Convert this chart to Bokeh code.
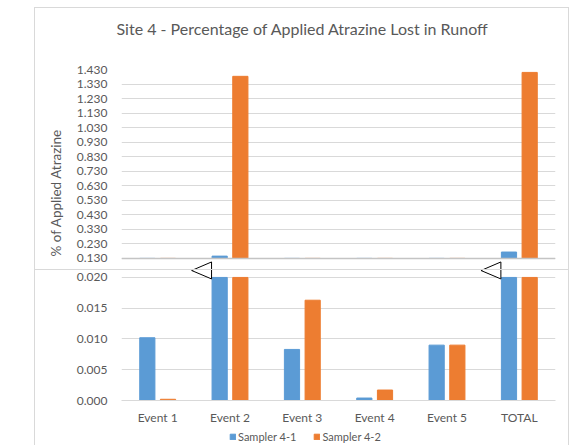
import numpy as np
from bokeh.plotting import figure
from bokeh.models import (FactorRange, Range1d, FixedTicker, PrintfTickFormatter,
                          Legend, LegendItem, Span, Title)
from bokeh.transform import dodge
from bokeh.layouts import column
from bokeh.embed import file_html
from bokeh.resources import INLINE

# ---------------- data ----------------
categories = ["Event 1", "Event 2", "Event 3", "Event 4", "Event 5", "TOTAL"]
sampler_41 = [0.0102, 0.146, 0.0083, 0.0004, 0.0090, 0.174]
sampler_42 = [0.0002, 1.383, 0.0163, 0.0017, 0.0090, 1.410]
series_names = ["Sampler 4-1", "Sampler 4-2"]
upper_ticks = [0.130, 0.230, 0.330, 0.430, 0.530, 0.630, 0.730, 0.830,
               0.930, 1.030, 1.130, 1.230, 1.330, 1.430]
lower_ticks = [0.000, 0.005, 0.010, 0.015, 0.020]
title_text = "Site 4 - Percentage of Applied Atrazine Lost in Runoff"
y_label = "% of Applied Atrazine"

# ---------------- styles ----------------
BLUE = "#5b9bd5"
ORANGE = "#ed7d31"
GRID = "#d9d9d9"
TXT = "#595959"
FONT = "Lato"
BAR_W = 0.21
OFF = 0.143
BORDER = "1px solid #d9d9d9"

W = 535                      # element width incl. 1px borders
H0, H1, H2, H3 = 52, 211, 157, 18
ML, MR = 83, 15              # canvas borders left / right of the frame
UP_TOP = 10                  # frame top inside the upper canvas
UP_GAP = 12                  # px between the 0.130 line and the break
LOW_BOTTOM = 26
LOW_GAP = 7                  # px between the 0.020 line and the break

up_frame_h = H1 - 1 - UP_TOP
up_base, up_top = upper_ticks[0], upper_ticks[-1]
up_upp = (up_top - up_base) / (up_frame_h - UP_GAP)
up_start = up_base - UP_GAP * up_upp

low_frame_h = H2 - LOW_BOTTOM
low_top_tick = lower_ticks[-1]
low_upp = low_top_tick / (low_frame_h - LOW_GAP)
low_end = low_top_tick + LOW_GAP * low_upp

s1 = np.array(sampler_41)
s2 = np.array(sampler_42)
data_up = dict(cat=categories,
               t1=np.maximum(s1, up_base), t2=np.maximum(s2, up_base))
data_low = dict(cat=categories,
                t1=np.minimum(s1, low_top_tick), t2=np.minimum(s2, low_top_tick))


def blank(p):
    p.outline_line_color = None
    p.background_fill_color = "white"
    p.border_fill_color = "white"
    for g in p.grid:
        g.visible = False


def style_y(p, ticks):
    ax = p.yaxis[0]
    ax.ticker = FixedTicker(ticks=ticks)
    ax.formatter = PrintfTickFormatter(format="%.3f")
    ax.axis_line_color = None
    ax.major_tick_line_color = None
    ax.minor_tick_line_color = None
    ax.major_tick_out = 0
    ax.major_tick_in = 0
    ax.major_label_standoff = 14
    ax.major_label_text_font = FONT
    ax.major_label_text_font_size = "12px"
    ax.major_label_text_color = TXT
    p.xgrid.visible = False
    p.ygrid.grid_line_color = GRID
    p.ygrid.ticker = FixedTicker(ticks=ticks)
    p.outline_line_color = None
    p.background_fill_color = "white"
    p.border_fill_color = "white"


# ---------------- title strip ----------------
p0 = figure(width=W, height=H0, x_range=Range1d(0, 1), y_range=Range1d(0, 1),
            x_axis_location=None, y_axis_location=None, min_border=0,
            output_backend="svg", toolbar_location=None,
            styles={"border-top": BORDER, "border-left": BORDER, "border-right": BORDER})
blank(p0)
p0.add_layout(Title(text=title_text, align="left", offset=-5, vertical_align="top",
                    standoff=20, text_font=FONT, text_font_size="16px",
                    text_font_style="normal", text_color=TXT), "above")

# ---------------- upper figure ----------------
p1 = figure(x_range=FactorRange(*categories), y_range=Range1d(up_start, up_top),
            width=W, height=H1, output_backend="svg", toolbar_location=None,
            x_axis_location=None, min_border_left=ML, min_border_right=MR,
            min_border_top=UP_TOP, min_border_bottom=0,
            styles={"border-bottom": BORDER, "border-left": BORDER, "border-right": BORDER})
style_y(p1, upper_ticks)
p1.vbar(x=dodge("cat", -OFF, range=p1.x_range), top="t1", bottom=up_base, width=BAR_W,
        source=data_up, fill_color=BLUE, line_color=BLUE, line_width=1)
p1.vbar(x=dodge("cat", OFF, range=p1.x_range), top="t2", bottom=up_base, width=BAR_W,
        source=data_up, fill_color=ORANGE, line_color=ORANGE, line_width=1)
p1.add_layout(Span(location=up_base, dimension="width", line_color="#c4c4c4",
                   line_width=1.5, level="overlay"))
p1.add_layout(Title(text=y_label, align="left", offset=14, vertical_align="bottom",
                    standoff=20, text_font=FONT, text_font_size="13.5px",
                    text_font_style="normal", text_color=TXT), "left")

# ---------------- lower figure ----------------
p2 = figure(x_range=p1.x_range, y_range=Range1d(0, low_end),
            width=W, height=H2, output_backend="svg", toolbar_location=None,
            min_border_left=ML, min_border_right=MR, min_border_top=0,
            min_border_bottom=LOW_BOTTOM,
            styles={"border-left": BORDER, "border-right": BORDER})
style_y(p2, lower_ticks)
xa = p2.xaxis[0]
xa.axis_line_color = GRID
xa.major_tick_line_color = None
xa.minor_tick_line_color = None
xa.major_tick_out = 0
xa.major_tick_in = 0
xa.major_label_standoff = 9
xa.major_label_text_font = FONT
xa.major_label_text_font_size = "12px"
xa.major_label_text_color = TXT

p2.vbar(x=dodge("cat", -OFF, range=p2.x_range), top="t1", bottom=0, width=BAR_W,
        source=data_low, fill_color=BLUE, line_color=BLUE, line_width=1)
p2.vbar(x=dodge("cat", OFF, range=p2.x_range), top="t2", bottom=0, width=BAR_W,
        source=data_low, fill_color=ORANGE, line_color=ORANGE, line_width=1)

# ---------------- axis-break markers ----------------
brk_cats = ["Event 2", "TOTAL"]
tip_off, edge_off = -0.53, -0.255
half_px = 8.5


def tri(p, y_mid, upp):
    xs, ys = [], []
    for c in brk_cats:
        xs.append([(c, tip_off), (c, edge_off), (c, edge_off)])
        ys.append([y_mid, y_mid + half_px * upp, y_mid - half_px * upp])
    p.patches(xs=xs, ys=ys, fill_color="white", line_color="black",
              line_width=1, level="overlay")


tri(p1, up_start, up_upp)
tri(p2, low_end, low_upp)

# ---------------- legend strip ----------------
p3 = figure(width=W, height=H3, x_range=Range1d(0, 1), y_range=Range1d(0, 1),
            x_axis_location=None, y_axis_location=None, min_border=0,
            output_backend="svg", toolbar_location=None,
            styles={"border-left": BORDER, "border-right": BORDER})
blank(p3)
# legend proxies (kept outside the visible range of this strip)
r1 = p3.vbar(x=[-1], top=[-1], width=0.1, fill_color=BLUE, line_color=BLUE)
r2 = p3.vbar(x=[-1], top=[-1], width=0.1, fill_color=ORANGE, line_color=ORANGE)
legend = Legend(items=[LegendItem(label=series_names[0], renderers=[r1]),
                       LegendItem(label=series_names[1], renderers=[r2])],
                orientation="horizontal", location=(108, 2),
                glyph_width=7, glyph_height=7, label_height=12,
                label_standoff=2, spacing=17, padding=0, margin=0,
                border_line_color=None, background_fill_alpha=0,
                label_text_font=FONT, label_text_font_size="11px",
                label_text_color=TXT)
p3.add_layout(legend, "center")

layout = column(p0, p1, p2, p3, spacing=0, margin=(7, 0, 0, 34))
open("out.html", "w").write(file_html(layout, INLINE))
